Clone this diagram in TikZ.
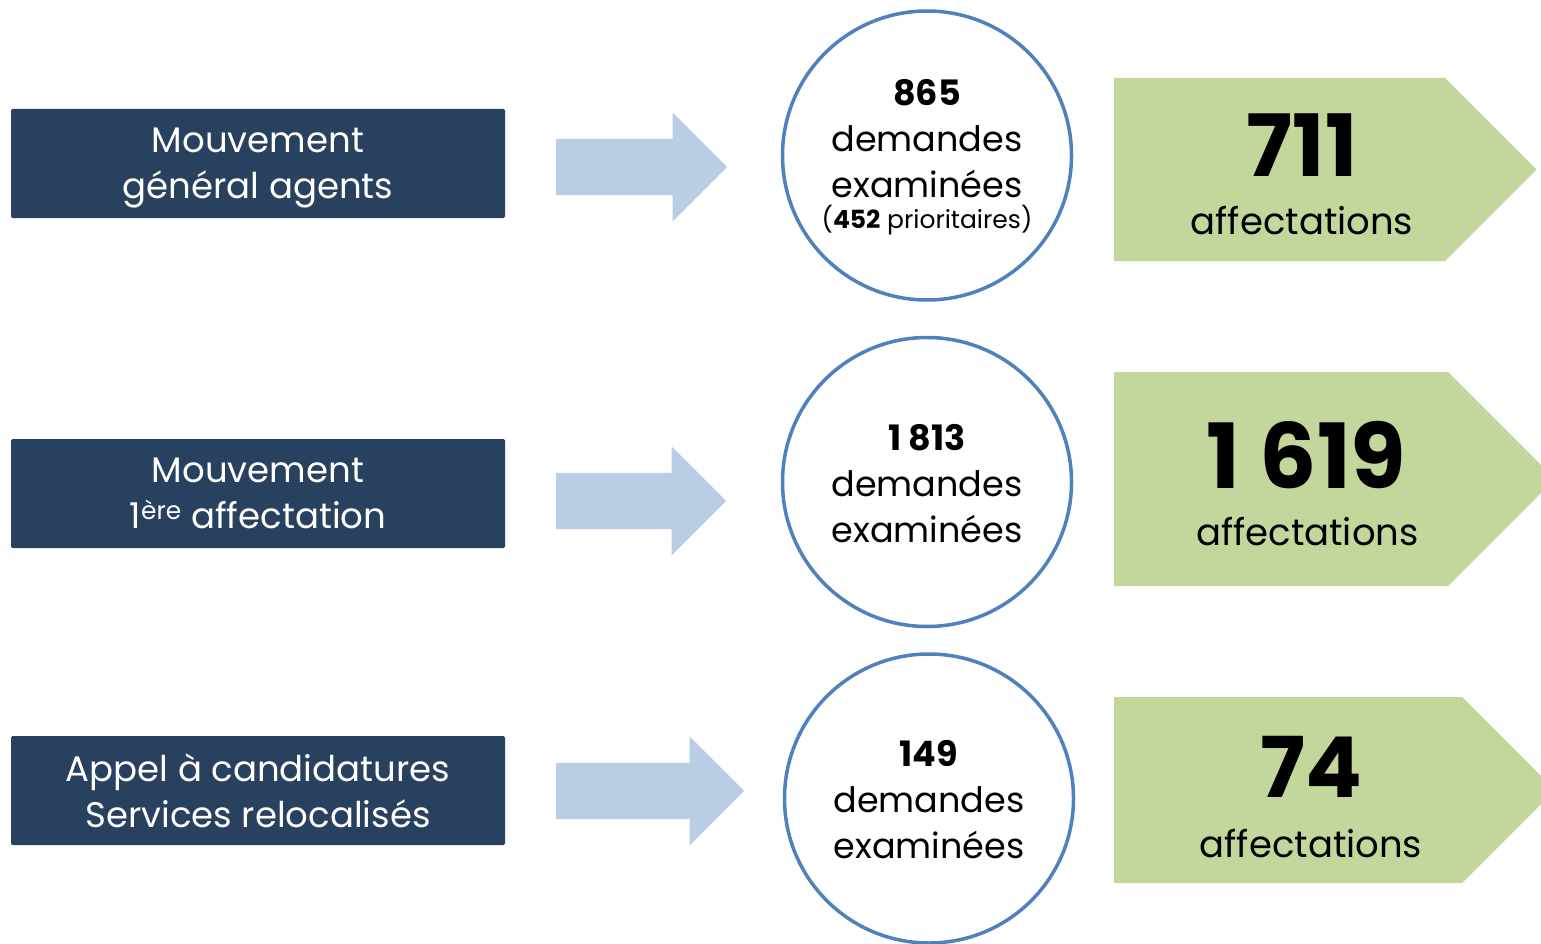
\documentclass[tikz,border=0pt]{standalone}
\usepackage{fontspec}
\setmainfont{Poppins}
\usetikzlibrary{shapes.arrows}
\definecolor{navy}{HTML}{27415F}
\definecolor{paleblue}{HTML}{B9CDE5}
\definecolor{ringblue}{HTML}{4F81BD}
\definecolor{palegreen}{HTML}{C3D69B}

\begin{document}
\begin{tikzpicture}[
        x=1pt, y=-1pt, % une unite = un pixel, y vers le bas
        srcbox/.style={fill=navy, text=white, rounded corners=1.5pt,
            minimum width=494pt, minimum height=109pt, inner sep=0pt,
            align=center, font=\fontsize{35.5}{46}\selectfont}, % Boites de gauche
        flow/.style={single arrow, fill=paleblue, draw=none,
            inner xsep=0pt, inner ysep=28pt,
            single arrow head extend=26.5pt, single arrow tip angle=90,
            anchor=tail}, % Fleches pleines
        ring/.style={circle, draw=ringblue, line width=3.5pt, fill=white,
            minimum size=289pt, inner sep=0pt}, % Cercles
        ringtext/.style={align=center, inner sep=0pt,
            font=\fontsize{35}{46}\selectfont}, % Texte des cercles
        result/.style={fill=palegreen}, % Fleches vertes
        bignum/.style={anchor=base, inner sep=0pt},
        restext/.style={anchor=base, inner sep=0pt, font=\fontsize{37}{46}\selectfont}
    ]
        \useasboundingbox (0,0) rectangle (1541,944);
        \clip (0,0) rectangle (1541,944);

        % --- Boites de gauche ---
        \node[srcbox] (mvt) at (258,163.5) {Mouvement\\\raisebox{0pt}[\height][0pt]{général agents}};
        \node[srcbox] (first) at (258,493.5) {Mouvement\\1\textsuperscript{ère} affectation};
        \node[srcbox] (call) at (258,790.5) {Appel à candidatures\\Services relocalisés};

        % --- Fleches ---
        \node[flow, minimum height=171pt] (arr1) at (556,167) {};
        \node[flow, minimum height=170pt] (arr2) at (556,501) {};
        \node[flow, minimum height=188pt] (arr3) at (556,791) {};

        % --- Cercles des demandes ---
        \node[ring] (ring1) at (927,155.5) {};
        \node[ring] (ring2) at (927,482) {};
        \node[ring] (ring3) at (929,798.5) {};
        \node[ringtext] (req1) at (927,157) {\textbf{865}\\demandes\\examinées\\[-15pt]
            {\fontsize{25}{31}\selectfont(\textbf{452} prioritaires)}};
        \node[ringtext] (req2) at (927,484) {\textbf{1 813}\\demandes\\examinées};
        \node[ringtext] (req3) at (929,800) {\textbf{149}\\demandes\\examinées};

        % --- Affectations ---
        \fill[result] (1114,78) -- (1445,78) -- (1536.5,169.5) -- (1445,261) -- (1114,261) -- cycle;
        \fill[result] (1114,372) -- (1448,372) -- (1555,479) -- (1448,586) -- (1114,586) -- cycle;
        \fill[result] (1114,697) -- (1462,697) -- (1555,790) -- (1462,883) -- (1114,883) -- cycle;
        \node[bignum, font=\bfseries\fontsize{86}{86}\selectfont] (num1) at (1302,177) {711};
        \node[restext] (aff1) at (1302,234) {affectations};
        \node[bignum, font=\bfseries\fontsize{90}{90}\selectfont] (num2) at (1306.5,488) {1 619};
        \node[restext] (aff2) at (1307.5,545) {affectations};
        \node[bignum, font=\bfseries\fontsize{84}{84}\selectfont] (num3) at (1311.5,797) {74};
        \node[restext] (aff3) at (1311,857) {affectations};
    \end{tikzpicture}
\end{document}
